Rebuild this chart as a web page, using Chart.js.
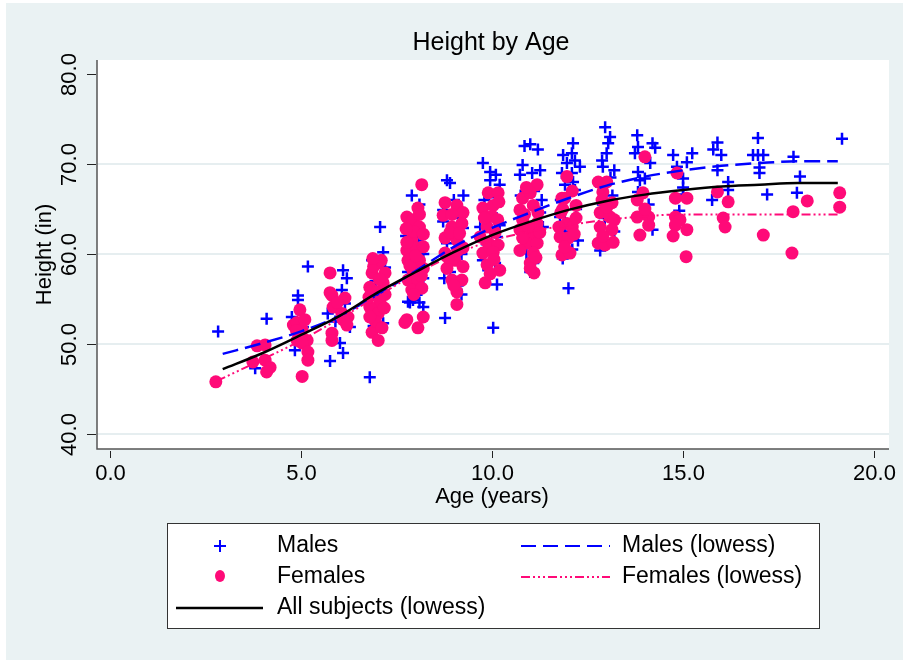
<!DOCTYPE html>
<html>
<head>
<meta charset="utf-8">
<script src="https://cdn.jsdelivr.net/npm/chart.js"></script>
<style>
  body { margin: 0; background: #fff; }
  canvas { display: block; }
</style>
</head>
<body>
<canvas id="myChart" width="903" height="660"></canvas>
<script>
// [age, height]
var malePoints = [
  [2.83,51.4],[3.8,47.3],[4.1,52.8],[4.92,55.4],[4.92,54.9],[5.18,58.6],[4.76,53.0],[5.05,51.9],[4.84,49.3],[5.0,50.6],
  [6.1,58.2],[6.2,57.3],[6.07,56.0],[5.7,53.4],[6.02,50.1],[6.1,49.0],[5.76,48.1],[6.28,51.9],[5.9,52.5],[6.15,54.5],
  [7.07,63.0],[6.86,59.3],[7.07,56.3],[7.15,52.3],[6.8,46.3],[6.9,52.0],[7.2,58.5],[6.95,57.0],[7.1,55.0],[6.85,54.0],[7.15,60.2],[7.0,53.0],
  [7.93,54.9],[8.1,54.6],[7.85,54.6],[8.2,54.1],[7.8,54.7],[7.93,63.0],[8.15,56.0],[7.8,58.0],[8.05,61.5],[8.2,60.0],[7.75,62.0],[8.1,65.5],[7.9,66.5],[8.2,57.3],[7.85,59.8],[8.0,55.5],
  [8.82,68.2],[8.9,67.9],[8.72,64.9],[8.72,63.6],[9.16,64.0],[9.24,62.9],[8.82,61.2],[8.77,52.9],[9.0,66.0],[9.2,60.0],[8.9,58.0],[9.1,56.5],[8.75,57.3],[9.2,55.5],[9.0,62.0],[9.25,66.5],
  [9.76,70.1],[9.95,69.1],[9.95,68.2],[10.2,67.7],[10.13,66.3],[9.69,63.0],[9.74,61.6],[10.13,61.9],[9.76,59.3],[10.08,59.0],[9.9,58.2],[10.13,56.6],[10.03,51.8],[10.0,64.5],[9.8,66.0],[10.2,63.2],[9.9,60.5],[10.1,68.8],
  [10.8,69.9],[10.73,68.8],[11.05,69.0],[11.26,69.3],[10.9,60.1],[11.08,59.0],[11.05,61.3],[11.33,63.0],[11.26,64.6],[11.0,72.2],[11.2,71.6],[10.85,72.0],[11.1,67.0],[10.75,66.5],[11.3,66.0],[10.9,63.5],[11.0,58.0],[11.2,62.0],
  [11.96,70.1],[11.83,69.0],[12.09,69.0],[11.91,67.7],[12.0,56.2],[11.78,64.1],[12.09,63.0],[12.12,72.3],[12.09,71.2],[12.17,70.4],[12.3,69.7],[11.86,71.0],[12.12,68.0],[12.17,67.1],[11.8,66.0],[12.2,65.0],[11.9,62.5],[12.1,60.5],[11.85,59.5],[12.25,61.5],
  [12.96,74.1],[13.09,73.0],[13.04,72.3],[12.88,70.4],[12.9,69.7],[13.2,69.3],[12.83,60.4],[13.0,71.2],[13.1,68.5],[12.85,67.5],[13.15,66.5],[12.95,64.0],[13.2,62.5],[12.9,65.5],
  [13.8,73.2],[13.82,71.9],[13.74,71.2],[14.2,72.3],[14.27,71.8],[14.14,70.1],[13.82,69.1],[13.87,68.2],[14.0,68.4],[13.82,66.9],[14.2,62.7],[14.1,65.5],[13.9,64.5],
  [14.74,71.0],[14.84,69.7],[15.24,71.2],[15.1,70.2],[15.0,68.4],[15.0,67.4],[15.0,66.6],[14.8,66.3],[14.9,64.8],
  [15.79,71.6],[15.9,72.4],[16.0,71.0],[15.9,69.3],[16.18,68.0],[16.18,67.1],[15.76,66.0],
  [16.96,72.9],[16.83,71.0],[16.96,71.0],[17.1,71.0],[17.0,69.6],[17.0,69.0],[17.2,66.6],[17.89,70.8],[18.06,68.6],[17.98,66.8],[19.16,72.8]
];
var femalePoints = [
  [2.77,45.8],[3.74,48.0],[3.85,49.8],[4.06,49.9],[4.06,48.2],[4.19,47.4],[4.1,46.9],
  [4.97,53.8],[4.8,52.1],[4.9,52.4],[5.03,51.6],[4.9,50.4],[5.16,50.4],[5.03,50.1],[5.18,49.1],[5.18,48.2],[5.03,46.4],[4.88,51.5],[5.1,52.7],
  [5.76,57.9],[5.81,55.4],[6.15,55.1],[5.84,54.1],[6.07,53.4],[6.23,53.0],[5.81,51.2],[5.81,50.4],[6.1,52.7],[6.2,52.1],[5.95,54.6],[5.76,55.7],
  [7.02,59.0],[6.86,57.9],[7.2,57.9],[6.8,56.3],[6.99,55.8],[7.07,54.6],[6.8,54.1],[7.02,53.4],[6.86,51.3],[7.02,50.4],[7.15,56.8],[6.9,58.6],[7.1,59.3],[6.78,55.2],[7.18,54.0],[6.95,52.5],[7.12,51.8],[6.8,53.0],[7.05,57.2],[6.88,59.5],[7.2,55.5],
  [8.16,67.7],[8.06,65.1],[7.77,64.1],[7.93,63.8],[8.1,63.0],[7.9,61.6],[7.77,60.4],[8.03,60.7],[8.2,60.8],[7.8,59.3],[8.1,59.3],[7.93,58.2],[8.2,58.4],[7.8,57.1],[8.06,57.1],[7.9,56.0],[8.16,56.2],[7.77,52.7],[8.06,51.8],[8.2,53.0],[7.77,61.3],[7.72,52.4],[7.95,62.5],[8.2,62.2],[7.85,58.7],[8.0,59.8],[8.15,57.6],[7.75,62.8],[8.1,64.4],[7.95,55.5],
  [9.08,65.4],[8.77,65.7],[9.24,64.6],[8.72,64.3],[8.95,63.0],[9.21,63.4],[8.77,61.8],[9.08,61.6],[9.24,60.7],[8.77,60.1],[9.03,59.3],[9.24,58.6],[8.82,58.4],[8.95,57.1],[9.21,57.1],[9.08,55.8],[9.08,54.4],[8.9,62.4],[9.15,62.3],[8.85,59.6],[9.1,60.4],[8.95,64.4],[9.0,56.5],
  [9.9,66.8],[10.16,66.8],[9.76,65.1],[10.03,65.4],[9.87,63.0],[10.08,62.4],[9.69,61.9],[9.9,61.2],[10.16,61.0],[9.76,60.1],[10.03,60.2],[9.87,58.8],[10.2,58.2],[9.82,56.8],[10.0,64.2],[10.15,63.8],[9.8,64.0],[10.05,59.4],[10.18,65.8],[9.95,57.8],
  [11.18,67.7],[10.8,66.2],[11.0,66.8],[10.73,64.9],[11.08,65.4],[10.8,63.8],[11.18,63.4],[10.73,62.7],[11.05,62.1],[10.9,61.2],[11.18,61.2],[10.73,60.4],[11.08,60.1],[11.0,59.0],[11.1,57.9],[10.85,64.4],[11.2,64.6],[10.95,63.0],[11.25,62.4],[10.8,61.8],[11.15,59.6],[10.9,67.4],[11.0,58.4],
  [11.96,68.6],[11.83,66.2],[11.78,61.9],[11.83,59.9],[11.9,66.2],[12.2,65.4],[11.8,64.6],[11.96,63.4],[12.1,63.0],[12.0,61.8],[12.04,60.1],[11.75,63.0],[12.15,62.2],[11.85,65.0],[12.2,64.0],[11.9,60.8],[12.1,67.0],
  [12.78,68.0],[13.0,68.0],[12.9,66.9],[12.88,66.0],[13.14,65.7],[12.83,64.6],[13.09,64.1],[13.2,63.8],[12.83,63.0],[13.14,62.7],[12.78,61.2],[12.96,61.0],[13.17,61.3],[13.0,65.2],[12.9,62.0],
  [14.0,70.8],[13.95,66.8],[13.8,66.0],[13.8,64.1],[14.1,64.1],[13.87,62.1],[14.1,63.2],[14.0,65.0],
  [14.84,69.0],[14.8,66.2],[15.1,66.2],[14.8,64.1],[14.92,63.8],[14.8,63.2],[14.74,62.0],[15.1,62.7],[15.08,59.7],
  [15.9,66.9],[16.18,65.8],[16.05,64.0],[16.1,63.0],
  [17.1,62.1],[17.88,64.7],[17.85,60.1],[18.25,65.9],[19.1,66.8],[19.1,65.2]
];

// lowess curves
var maleLowessAge = [2.95, 4, 5, 6, 7, 8, 9, 10, 11, 12, 13, 14, 15, 16, 17, 18, 19.05];
var maleLowessHt  = [48.9, 50.1, 51.4, 53.1, 55.5, 58.1, 60.8, 62.9, 64.6, 66.2, 67.6, 68.6, 69.3, 69.8, 70.1, 70.3, 70.3];
var femaleLowessAge = [2.8, 4, 5, 6, 7, 8, 9, 10, 11, 12, 13, 14, 15, 16, 17, 18, 19.05];
var femaleLowessHt  = [45.9, 48.3, 50.4, 52.8, 55.3, 57.8, 59.9, 61.5, 62.5, 63.2, 63.8, 64.2, 64.4, 64.4, 64.4, 64.4, 64.4];
var allLowessAge = [2.95, 4, 5, 6, 7, 8, 9, 10, 11, 12, 13, 14, 15, 16, 17, 18, 19.05];
var allLowessHt  = [47.2, 49.0, 51.0, 53.1, 55.7, 58.0, 60.2, 62.1, 63.6, 64.9, 65.9, 66.6, 67.1, 67.5, 67.7, 67.9, 67.9];

var xTicks = [0, 5, 10, 15, 20];
var yTicks = [40, 50, 60, 70, 80];
var yGrid = [40, 50, 60, 70];

var BLUE = '#0000ff';
var PINK = '#ff0a78';
var BG = '#eaf2f3';
var FONT = '"Liberation Sans", Arial, sans-serif';
var femaleDash = [9, 3, 2, 3, 2, 3, 2, 3];

function toXY(pts) {
  return pts.map(function (p) { return { x: p[0], y: p[1] }; });
}
function zipXY(ax, ay) {
  var out = [];
  for (var i = 0; i < ax.length; i++) out.push({ x: ax[i], y: ay[i] });
  return out;
}

var stataDecor = {
  id: 'stataDecor',
  beforeDraw: function (chart) {
    var ctx = chart.ctx, a = chart.chartArea;
    ctx.save();
    ctx.fillStyle = '#ffffff';
    ctx.fillRect(0, 0, chart.width, chart.height);
    ctx.fillStyle = BG;
    ctx.fillRect(6, 3, chart.width - 6, chart.height - 3);
    ctx.fillStyle = '#ffffff';
    ctx.fillRect(a.left, a.top, a.right - a.left, a.bottom - a.top);
    var ys = chart.scales.y;
    ctx.strokeStyle = '#e6eef0';
    ctx.lineWidth = 2;
    yGrid.forEach(function (v) {
      var py = Math.round(ys.getPixelForValue(v));
      ctx.beginPath();
      ctx.moveTo(a.left, py);
      ctx.lineTo(a.right, py);
      ctx.stroke();
    });
    ctx.restore();
  },
  afterDraw: function (chart) {
    var ctx = chart.ctx, a = chart.chartArea;
    var xs = chart.scales.x, ys = chart.scales.y;
    ctx.save();
    // axes
    ctx.strokeStyle = '#555555';
    ctx.lineWidth = 1.5;
    ctx.beginPath();
    ctx.moveTo(a.left, a.top);
    ctx.lineTo(a.left, a.bottom);
    ctx.lineTo(a.right, a.bottom);
    ctx.stroke();
    ctx.strokeStyle = '#222222';
    ctx.lineWidth = 1;
    ctx.fillStyle = '#000000';
    ctx.font = '22px ' + FONT;
    ctx.textAlign = 'center';
    ctx.textBaseline = 'middle';
    xTicks.forEach(function (v) {
      var px = Math.round(xs.getPixelForValue(v)) + 0.5;
      ctx.beginPath();
      ctx.moveTo(px, a.bottom + 2);
      ctx.lineTo(px, a.bottom + 9);
      ctx.stroke();
      ctx.fillText(v.toFixed(1), px, a.bottom + 25);
    });
    yTicks.forEach(function (v) {
      var py = Math.round(ys.getPixelForValue(v)) + 0.5;
      ctx.beginPath();
      ctx.moveTo(a.left - 10, py);
      ctx.lineTo(a.left - 1, py);
      ctx.stroke();
      ctx.save();
      ctx.translate(a.left - 27, py);
      ctx.rotate(-Math.PI / 2);
      ctx.fillText(v.toFixed(1), 0, 0);
      ctx.restore();
    });
    // axis titles
    ctx.fillText('Age (years)', (a.left + a.right) / 2 - 1, 497);
    ctx.save();
    ctx.translate(45, (a.top + a.bottom) / 2);
    ctx.rotate(-Math.PI / 2);
    ctx.fillText('Height (in)', 0, 0);
    ctx.restore();
    // title
    ctx.font = '25px ' + FONT;
    ctx.fillText('Height by Age', 491, 43);

    // legend
    ctx.fillStyle = '#ffffff';
    ctx.fillRect(167, 523, 653, 106);
    ctx.strokeStyle = '#333333';
    ctx.lineWidth = 1;
    ctx.strokeRect(167.5, 523.5, 652, 105);
    ctx.font = '23px ' + FONT;
    ctx.textAlign = 'left';
    ctx.fillStyle = '#000000';
    var r1 = 546, r2 = 577, r3 = 608;
    ctx.fillText('Males', 277, r1);
    ctx.fillText('Females', 277, r2);
    ctx.fillText('All subjects (lowess)', 277, r3);
    ctx.fillText('Males (lowess)', 622, r1);
    ctx.fillText('Females (lowess)', 622, r2);
    // + marker
    ctx.strokeStyle = BLUE;
    ctx.lineWidth = 2;
    ctx.beginPath();
    ctx.moveTo(214, r1); ctx.lineTo(226, r1);
    ctx.moveTo(220, r1 - 6); ctx.lineTo(220, r1 + 6);
    ctx.stroke();
    // dot marker
    ctx.fillStyle = PINK;
    ctx.beginPath();
    ctx.ellipse(220, r2 - 1, 5, 6, 0, 0, Math.PI * 2);
    ctx.fill();
    // line samples
    ctx.lineWidth = 2;
    ctx.setLineDash([15, 7]);
    ctx.beginPath(); ctx.moveTo(521, r1); ctx.lineTo(610, r1); ctx.stroke();
    ctx.strokeStyle = PINK;
    ctx.setLineDash(femaleDash);
    ctx.beginPath(); ctx.moveTo(521, r2); ctx.lineTo(610, r2); ctx.stroke();
    ctx.setLineDash([]);
    ctx.strokeStyle = '#000000';
    ctx.lineWidth = 2.5;
    ctx.beginPath(); ctx.moveTo(176, r3); ctx.lineTo(263, r3); ctx.stroke();
    ctx.restore();
  }
};

new Chart('myChart', {
  type: 'scatter',
  data: {
    datasets: [
      { label: 'All subjects (lowess)', type: 'line', data: zipXY(allLowessAge, allLowessHt),
        borderColor: '#000000', borderWidth: 2.5, pointRadius: 0, cubicInterpolationMode: 'monotone', order: 0 },
      { label: 'Females (lowess)', type: 'line', data: zipXY(femaleLowessAge, femaleLowessHt),
        borderColor: PINK, borderWidth: 2, borderDash: femaleDash, pointRadius: 0, cubicInterpolationMode: 'monotone', order: 1 },
      { label: 'Males (lowess)', type: 'line', data: zipXY(maleLowessAge, maleLowessHt),
        borderColor: BLUE, borderWidth: 2.5, borderDash: [16, 7], pointRadius: 0, cubicInterpolationMode: 'monotone', order: 2 },
      { label: 'Females', data: toXY(femalePoints), pointStyle: 'circle', pointRadius: 6.5,
        backgroundColor: PINK, borderColor: PINK, borderWidth: 0, order: 3 },
      { label: 'Males', data: toXY(malePoints), pointStyle: 'cross', pointRadius: 6,
        backgroundColor: BLUE, borderColor: BLUE, borderWidth: 2.5, order: 4 }
    ]
  },
  options: {
    responsive: false,
    animation: false,
    events: [],
    layout: { padding: { left: 97, right: 14, top: 60, bottom: 211 } },
    scales: {
      x: { type: 'linear', min: -0.34, max: 20.39, display: false },
      y: { type: 'linear', min: 38.33, max: 81.56, display: false }
    },
    plugins: { legend: { display: false }, tooltip: { enabled: false }, title: { display: false } }
  },
  plugins: [stataDecor]
});
</script>
</body>
</html>
